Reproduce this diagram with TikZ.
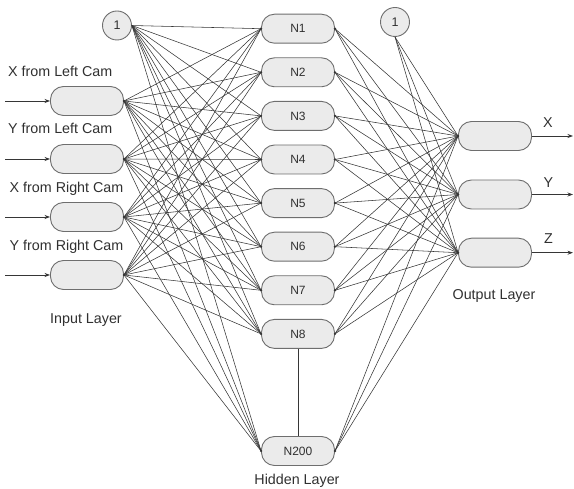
\documentclass[tikz,border=0pt]{standalone}
\usepackage{fontspec}
\setmainfont{Liberation Sans}
\usetikzlibrary{arrows.meta}
\definecolor{nodefill}{HTML}{EBEBEB}
\definecolor{nodeborder}{HTML}{6E6E6E}
\definecolor{txt}{HTML}{303030}
\definecolor{wirec}{HTML}{363636}
\begin{document}
\begin{tikzpicture}[x=1pt,y=-1pt,
 neuron/.style={draw=nodeborder, fill=nodefill, line width=0.9pt, rounded corners=13pt,
   minimum width=73pt, minimum height=29pt, inner sep=0pt, text=txt,
   font=\fontsize{12}{14}\selectfont},
 bias/.style={circle, draw=nodeborder, fill=nodefill, line width=0.9pt, minimum size=29pt,
   inner sep=0pt, text=txt, font=\fontsize{12.5}{14}\selectfont},
 lbl/.style={text=txt, font=\fontsize{14.3}{16}\selectfont, inner sep=0pt},
 wire/.style={draw=wirec, line width=0.55pt},
 io/.style={draw=wirec, line width=0.7pt, -{Stealth[length=5.5pt,width=4pt]}},
 joint/.style={circle, fill=wirec, inner sep=0pt, minimum size=2.6pt}]
\useasboundingbox (0,0) rectangle (574,489);

% bias nodes
\node[bias] (b1) at (117,25.5) {1};
\node[bias] (b2) at (395,22) {1};

% input nodes
\foreach \i/\y in {1/101,2/159,3/217,4/275}{
  \node[neuron] (in\i) at (87,\y) {};
  \coordinate (src\i) at (5,\y);
}
% hidden nodes
\foreach \i in {1,...,8}{
  \node[neuron] (h\i) at (298,{28.7+43.6*(\i-1)}) {N\i};
}
\node[neuron] (h200) at (298,451) {N200};
% output nodes
\foreach \i/\y in {1/136,2/194.5,3/252.7}{
  \node[neuron] (out\i) at (495,\y) {};
  \coordinate (dst\i) at (573,\y);
}

% wires input -> hidden
\foreach \i in {1,...,4}{
  \foreach \h in {1,...,8,200}{
    \draw[wire] (in\i.east) -- (h\h.west);
  }
}
\foreach \h in {1,...,8,200}{
  \draw[wire] (b1.east) -- (h\h.west);
  \foreach \o in {1,2,3}{
    \draw[wire] (h\h.east) -- (out\o.west);
  }
}
\foreach \o in {1,2,3}{
  \draw[wire] (b2.south) -- (out\o.west);
}
\draw[wire] (h8.south) -- (h200.north);

% joints
\foreach \i in {1,...,4}{ \node[joint] at (in\i.east) {}; \draw[io] (src\i) -- (in\i.west); }
\foreach \h in {1,...,8,200}{ \node[joint] at (h\h.west) {}; \node[joint] at (h\h.east) {}; }
\foreach \o in {1,2,3}{ \node[joint] at (out\o.west) {}; \draw[io] (out\o.east) -- (dst\o); }

% labels
\node[lbl, anchor=base west] (l1) at (8,76.7) {X from Left Cam};
\node[lbl, anchor=base west] (l2) at (8,133.3) {Y from Left Cam};
\node[lbl, anchor=base west] (l3) at (9.5,192.3) {X from Right Cam};
\node[lbl, anchor=base west] (l4) at (9.5,250.7) {Y from Right Cam};
\node[lbl, anchor=base] (linput) at (86,324) {Input Layer};
\node[lbl, anchor=base] (lhidden) at (297,485) {Hidden Layer};
\node[lbl, anchor=base] (loutput) at (494,300) {Output Layer};
\node[lbl, anchor=base] (lx) at (548,128) {X};
\node[lbl, anchor=base] (ly) at (548.5,187.5) {Y};
\node[lbl, anchor=base] (lz) at (548.5,244) {Z};
\end{tikzpicture}
\end{document}
